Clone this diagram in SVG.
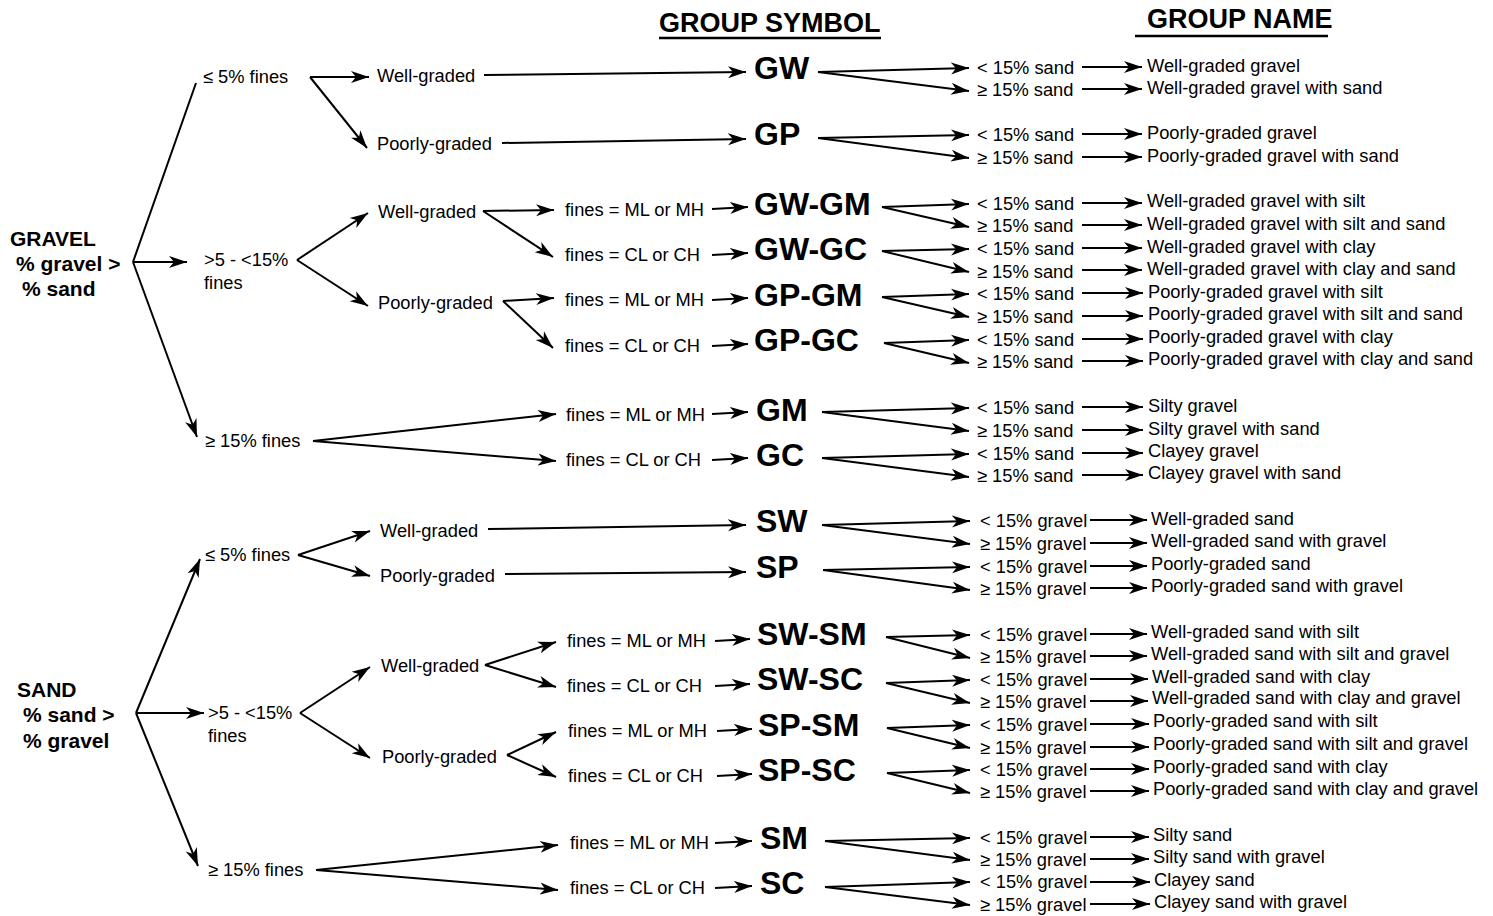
<svg xmlns="http://www.w3.org/2000/svg" width="1493" height="916" viewBox="0 0 1493 916">
<defs>
<marker id="ah" markerUnits="userSpaceOnUse" markerWidth="22" markerHeight="14" refX="18" refY="7" orient="auto">
<path d="M0,1 L18,7 L0,13 L5,7 Z" fill="#000"/>
</marker>
<style>
text{font-family:"Liberation Sans",Arial,sans-serif;fill:#000}
.t{font-size:18.3px}
.sym{font-size:32px;font-weight:bold}
.root{font-size:21px;font-weight:bold}
.hdr{font-size:27px;font-weight:bold}
.c line{stroke:#000;stroke-width:2;fill:none}
.c line.a{marker-end:url(#ah)}
</style>
</defs>
<rect width="1493" height="916" fill="#fff"/>

<g id="headers">
<text class="hdr" x="659" y="32">GROUP SYMBOL</text>
<line x1="659" y1="38" x2="881" y2="38" stroke="#000" stroke-width="2.5"/>
<text class="hdr" x="1147" y="28">GROUP NAME</text>
<line x1="1135" y1="36" x2="1328" y2="36" stroke="#000" stroke-width="2.5"/>
</g>

<g id="gravel-root"><text class="root" x="10" y="246">GRAVEL</text><text class="root" x="16" y="271">% gravel &gt;</text><text class="root" x="22" y="296">% sand</text></g>
<g id="g-le5"><text class="t" x="203" y="83">≤ 5% fines</text></g>
<g id="g-5to15"><text class="t" x="204" y="266">&gt;5 - &lt;15%</text><text class="t" x="204" y="289">fines</text></g>
<g id="g-ge15"><text class="t" x="205" y="447">≥ 15% fines</text></g>
<g id="g-wg1"><text class="t" x="377" y="82">Well-graded</text></g>
<g id="g-pg1"><text class="t" x="377" y="150">Poorly-graded</text></g>
<g id="g-wg2"><text class="t" x="378" y="218">Well-graded</text></g>
<g id="g-pg2"><text class="t" x="378" y="309">Poorly-graded</text></g>
<g id="g-f1"><text class="t" x="565" y="216">fines = ML or MH</text></g>
<g id="g-f2"><text class="t" x="565" y="261">fines = CL or CH</text></g>
<g id="g-f3"><text class="t" x="565" y="306">fines = ML or MH</text></g>
<g id="g-f4"><text class="t" x="565" y="352">fines = CL or CH</text></g>
<g id="g-f5"><text class="t" x="566" y="421">fines = ML or MH</text></g>
<g id="g-f6"><text class="t" x="566" y="466">fines = CL or CH</text></g>

<g id="sand-root"><text class="root" x="17" y="697">SAND</text><text class="root" x="23" y="722">% sand &gt;</text><text class="root" x="23" y="748">% gravel</text></g>
<g id="s-le5"><text class="t" x="205" y="561">≤ 5% fines</text></g>
<g id="s-5to15"><text class="t" x="208" y="719">&gt;5 - &lt;15%</text><text class="t" x="208" y="742">fines</text></g>
<g id="s-ge15"><text class="t" x="208" y="876">≥ 15% fines</text></g>
<g id="s-wg1"><text class="t" x="380" y="537">Well-graded</text></g>
<g id="s-pg1"><text class="t" x="380" y="582">Poorly-graded</text></g>
<g id="s-wg2"><text class="t" x="381" y="672">Well-graded</text></g>
<g id="s-pg2"><text class="t" x="382" y="763">Poorly-graded</text></g>
<g id="s-f1"><text class="t" x="567" y="647">fines = ML or MH</text></g>
<g id="s-f2"><text class="t" x="567" y="692">fines = CL or CH</text></g>
<g id="s-f3"><text class="t" x="568" y="737">fines = ML or MH</text></g>
<g id="s-f4"><text class="t" x="568" y="782">fines = CL or CH</text></g>
<g id="s-f5"><text class="t" x="570" y="849">fines = ML or MH</text></g>
<g id="s-f6"><text class="t" x="570" y="894">fines = CL or CH</text></g>

<g id="sym-GW"><text class="sym" x="754" y="79">GW</text></g>
<g id="sym-GP"><text class="sym" x="754" y="145">GP</text></g>
<g id="sym-GW-GM"><text class="sym" x="754" y="215">GW-GM</text></g>
<g id="sym-GW-GC"><text class="sym" x="754" y="260">GW-GC</text></g>
<g id="sym-GP-GM"><text class="sym" x="754" y="306">GP-GM</text></g>
<g id="sym-GP-GC"><text class="sym" x="754" y="351">GP-GC</text></g>
<g id="sym-GM"><text class="sym" x="756" y="421">GM</text></g>
<g id="sym-GC"><text class="sym" x="756" y="466">GC</text></g>
<g id="sym-SW"><text class="sym" x="756" y="532">SW</text></g>
<g id="sym-SP"><text class="sym" x="756" y="578">SP</text></g>
<g id="sym-SW-SM"><text class="sym" x="757" y="645">SW-SM</text></g>
<g id="sym-SW-SC"><text class="sym" x="757" y="690">SW-SC</text></g>
<g id="sym-SP-SM"><text class="sym" x="758" y="736">SP-SM</text></g>
<g id="sym-SP-SC"><text class="sym" x="758" y="781">SP-SC</text></g>
<g id="sym-SM"><text class="sym" x="760" y="849">SM</text></g>
<g id="sym-SC"><text class="sym" x="760" y="894">SC</text></g>

<g id="gravel-criteria">
<text class="t" x="977" y="74">&lt; 15% sand</text><text class="t" x="977" y="96">≥ 15% sand</text>
<text class="t" x="977" y="141">&lt; 15% sand</text><text class="t" x="977" y="164">≥ 15% sand</text>
<text class="t" x="977" y="210">&lt; 15% sand</text><text class="t" x="977" y="232">≥ 15% sand</text>
<text class="t" x="977" y="255">&lt; 15% sand</text><text class="t" x="977" y="278">≥ 15% sand</text>
<text class="t" x="977" y="300">&lt; 15% sand</text><text class="t" x="977" y="323">≥ 15% sand</text>
<text class="t" x="977" y="346">&lt; 15% sand</text><text class="t" x="977" y="368">≥ 15% sand</text>
<text class="t" x="977" y="414">&lt; 15% sand</text><text class="t" x="977" y="437">≥ 15% sand</text>
<text class="t" x="977" y="460">&lt; 15% sand</text><text class="t" x="977" y="482">≥ 15% sand</text>
</g>
<g id="sand-criteria">
<text class="t" x="980" y="527">&lt; 15% gravel</text><text class="t" x="980" y="550">≥ 15% gravel</text>
<text class="t" x="980" y="573">&lt; 15% gravel</text><text class="t" x="980" y="595">≥ 15% gravel</text>
<text class="t" x="980" y="641">&lt; 15% gravel</text><text class="t" x="980" y="663">≥ 15% gravel</text>
<text class="t" x="980" y="686">&lt; 15% gravel</text><text class="t" x="980" y="708">≥ 15% gravel</text>
<text class="t" x="980" y="731">&lt; 15% gravel</text><text class="t" x="980" y="754">≥ 15% gravel</text>
<text class="t" x="980" y="776">&lt; 15% gravel</text><text class="t" x="980" y="798">≥ 15% gravel</text>
<text class="t" x="980" y="844">&lt; 15% gravel</text><text class="t" x="980" y="866">≥ 15% gravel</text>
<text class="t" x="980" y="888">&lt; 15% gravel</text><text class="t" x="980" y="911">≥ 15% gravel</text>
</g>
<g id="gravel-names">
<text class="t" x="1147" y="72">Well-graded gravel</text>
<text class="t" x="1147" y="94">Well-graded gravel with sand</text>
<text class="t" x="1147" y="139">Poorly-graded gravel</text>
<text class="t" x="1147" y="162">Poorly-graded gravel with sand</text>
<text class="t" x="1147" y="207">Well-graded gravel with silt</text>
<text class="t" x="1147" y="230">Well-graded gravel with silt and sand</text>
<text class="t" x="1147" y="253">Well-graded gravel with clay</text>
<text class="t" x="1147" y="275">Well-graded gravel with clay and sand</text>
<text class="t" x="1148" y="298">Poorly-graded gravel with silt</text>
<text class="t" x="1148" y="320">Poorly-graded gravel with silt and sand</text>
<text class="t" x="1148" y="343">Poorly-graded gravel with clay</text>
<text class="t" x="1148" y="365">Poorly-graded gravel with clay and sand</text>
<text class="t" x="1148" y="412">Silty gravel</text>
<text class="t" x="1148" y="435">Silty gravel with sand</text>
<text class="t" x="1148" y="457">Clayey gravel</text>
<text class="t" x="1148" y="479">Clayey gravel with sand</text>
</g>
<g id="sand-names">
<text class="t" x="1151" y="525">Well-graded sand</text>
<text class="t" x="1151" y="547">Well-graded sand with gravel</text>
<text class="t" x="1151" y="570">Poorly-graded sand</text>
<text class="t" x="1151" y="592">Poorly-graded sand with gravel</text>
<text class="t" x="1151" y="638">Well-graded sand with silt</text>
<text class="t" x="1151" y="660">Well-graded sand with silt and gravel</text>
<text class="t" x="1152" y="683">Well-graded sand with clay</text>
<text class="t" x="1152" y="704">Well-graded sand with clay and gravel</text>
<text class="t" x="1153" y="727">Poorly-graded sand with silt</text>
<text class="t" x="1153" y="750">Poorly-graded sand with silt and gravel</text>
<text class="t" x="1153" y="773">Poorly-graded sand with clay</text>
<text class="t" x="1153" y="795">Poorly-graded sand with clay and gravel</text>
<text class="t" x="1153" y="841">Silty sand</text>
<text class="t" x="1153" y="863">Silty sand with gravel</text>
<text class="t" x="1154" y="886">Clayey sand</text>
<text class="t" x="1154" y="908">Clayey sand with gravel</text>
</g>

<g id="connectors" class="c">
<line x1="133" y1="262" x2="196" y2="83"/>
<line class="a" x1="133" y1="262" x2="187" y2="262"/>
<line class="a" x1="133" y1="262" x2="197" y2="437"/>
<line class="a" x1="310" y1="77" x2="369" y2="77"/>
<line class="a" x1="310" y1="77" x2="367" y2="148"/>
<line class="a" x1="484" y1="75" x2="746" y2="72"/>
<line class="a" x1="502" y1="143" x2="746" y2="139"/>
<line class="a" x1="297" y1="260" x2="368" y2="213"/>
<line class="a" x1="297" y1="260" x2="368" y2="306"/>
<line class="a" x1="483" y1="211" x2="554" y2="210"/>
<line class="a" x1="483" y1="211" x2="553" y2="257"/>
<line class="a" x1="503" y1="301" x2="554" y2="298"/>
<line class="a" x1="503" y1="301" x2="553" y2="348"/>
<line class="a" x1="313" y1="441" x2="556" y2="414"/>
<line class="a" x1="313" y1="441" x2="556" y2="461"/>
<line class="a" x1="712" y1="209" x2="748" y2="207"/>
<line class="a" x1="712" y1="255" x2="748" y2="253"/>
<line class="a" x1="712" y1="300" x2="748" y2="298"/>
<line class="a" x1="712" y1="346" x2="748" y2="344"/>
<line class="a" x1="712" y1="414" x2="748" y2="412"/>
<line class="a" x1="712" y1="460" x2="748" y2="458"/>
<line class="a" x1="136" y1="713" x2="200" y2="559"/>
<line class="a" x1="136" y1="713" x2="204" y2="713"/>
<line class="a" x1="136" y1="713" x2="198" y2="866"/>
<line class="a" x1="298" y1="555" x2="370" y2="531"/>
<line class="a" x1="298" y1="555" x2="370" y2="576"/>
<line class="a" x1="488" y1="529" x2="746" y2="525"/>
<line class="a" x1="505" y1="574" x2="746" y2="572"/>
<line class="a" x1="300" y1="713" x2="370" y2="667"/>
<line class="a" x1="300" y1="713" x2="370" y2="758"/>
<line class="a" x1="485" y1="665" x2="556" y2="642"/>
<line class="a" x1="485" y1="665" x2="556" y2="687"/>
<line class="a" x1="507" y1="755" x2="556" y2="732"/>
<line class="a" x1="507" y1="755" x2="556" y2="777"/>
<line class="a" x1="316" y1="870" x2="558" y2="845"/>
<line class="a" x1="316" y1="870" x2="558" y2="890"/>
<line class="a" x1="715" y1="641" x2="750" y2="639"/>
<line class="a" x1="715" y1="686" x2="750" y2="684"/>
<line class="a" x1="717" y1="731" x2="752" y2="729"/>
<line class="a" x1="717" y1="776" x2="752" y2="774"/>
<line class="a" x1="715" y1="843" x2="752" y2="841"/>
<line class="a" x1="715" y1="888" x2="752" y2="886"/>
<line class="a" x1="818" y1="72" x2="969" y2="68"/><line class="a" x1="818" y1="72" x2="969" y2="91"/>
<line class="a" x1="818" y1="138" x2="969" y2="135"/><line class="a" x1="818" y1="138" x2="969" y2="158"/>
<line class="a" x1="882" y1="207" x2="969" y2="204"/><line class="a" x1="882" y1="207" x2="969" y2="227"/>
<line class="a" x1="882" y1="251" x2="969" y2="249"/><line class="a" x1="882" y1="251" x2="969" y2="272"/>
<line class="a" x1="882" y1="297" x2="969" y2="294"/><line class="a" x1="882" y1="297" x2="969" y2="317"/>
<line class="a" x1="884" y1="343" x2="969" y2="340"/><line class="a" x1="884" y1="343" x2="969" y2="363"/>
<line class="a" x1="822" y1="412" x2="969" y2="408"/><line class="a" x1="822" y1="412" x2="969" y2="431"/>
<line class="a" x1="822" y1="458" x2="969" y2="454"/><line class="a" x1="822" y1="458" x2="969" y2="477"/>
<line class="a" x1="822" y1="525" x2="970" y2="521"/><line class="a" x1="822" y1="525" x2="970" y2="544"/>
<line class="a" x1="823" y1="570" x2="970" y2="567"/><line class="a" x1="823" y1="570" x2="970" y2="590"/>
<line class="a" x1="886" y1="637" x2="970" y2="635"/><line class="a" x1="886" y1="637" x2="970" y2="658"/>
<line class="a" x1="886" y1="683" x2="970" y2="680"/><line class="a" x1="886" y1="683" x2="970" y2="703"/>
<line class="a" x1="887" y1="728" x2="970" y2="725"/><line class="a" x1="887" y1="728" x2="970" y2="748"/>
<line class="a" x1="887" y1="773" x2="970" y2="770"/><line class="a" x1="887" y1="773" x2="970" y2="793"/>
<line class="a" x1="825" y1="841" x2="970" y2="838"/><line class="a" x1="825" y1="841" x2="970" y2="860"/>
<line class="a" x1="825" y1="887" x2="970" y2="882"/><line class="a" x1="825" y1="887" x2="970" y2="905"/>
<line class="a" x1="1082" y1="67" x2="1142" y2="67"/><line class="a" x1="1082" y1="89" x2="1142" y2="89"/>
<line class="a" x1="1082" y1="134" x2="1142" y2="134"/><line class="a" x1="1082" y1="157" x2="1142" y2="157"/>
<line class="a" x1="1082" y1="203" x2="1142" y2="203"/><line class="a" x1="1082" y1="225" x2="1142" y2="225"/>
<line class="a" x1="1082" y1="248" x2="1142" y2="248"/><line class="a" x1="1082" y1="270" x2="1142" y2="270"/>
<line class="a" x1="1082" y1="293" x2="1143" y2="293"/><line class="a" x1="1082" y1="316" x2="1143" y2="316"/>
<line class="a" x1="1082" y1="339" x2="1143" y2="339"/><line class="a" x1="1082" y1="361" x2="1143" y2="361"/>
<line class="a" x1="1082" y1="407" x2="1143" y2="407"/><line class="a" x1="1082" y1="430" x2="1143" y2="430"/>
<line class="a" x1="1082" y1="453" x2="1143" y2="453"/><line class="a" x1="1082" y1="475" x2="1143" y2="475"/>
<line class="a" x1="1090" y1="520" x2="1147" y2="520"/><line class="a" x1="1090" y1="543" x2="1147" y2="543"/>
<line class="a" x1="1090" y1="566" x2="1147" y2="566"/><line class="a" x1="1090" y1="588" x2="1147" y2="588"/>
<line class="a" x1="1090" y1="634" x2="1147" y2="634"/><line class="a" x1="1090" y1="656" x2="1147" y2="656"/>
<line class="a" x1="1090" y1="679" x2="1148" y2="679"/><line class="a" x1="1090" y1="701" x2="1148" y2="701"/>
<line class="a" x1="1090" y1="724" x2="1149" y2="724"/><line class="a" x1="1090" y1="747" x2="1149" y2="747"/>
<line class="a" x1="1090" y1="769" x2="1149" y2="769"/><line class="a" x1="1090" y1="791" x2="1149" y2="791"/>
<line class="a" x1="1090" y1="837" x2="1149" y2="837"/><line class="a" x1="1090" y1="859" x2="1149" y2="859"/>
<line class="a" x1="1090" y1="882" x2="1150" y2="882"/><line class="a" x1="1090" y1="904" x2="1150" y2="904"/>
</g>
</svg>
